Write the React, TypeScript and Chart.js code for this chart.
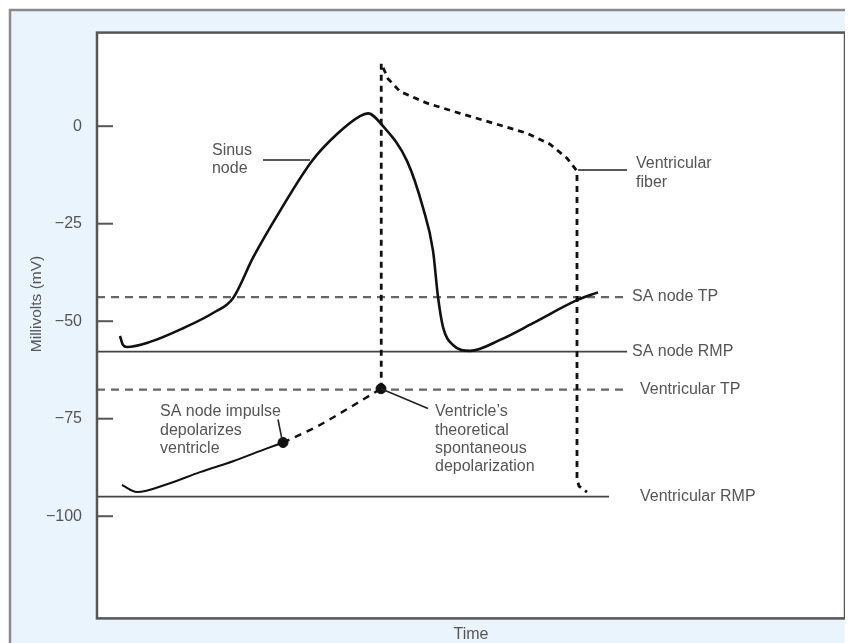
import React, { useEffect, useRef } from "react";
import { Chart, registerables } from "chart.js";

Chart.register(...registerables);

// Time axis runs 0..100 (arbitrary units), voltage in mV
const yTicks = [0, -25, -50, -75, -100];

const sinusTime = [3.07, 3.48, 4.01, 7.09, 11.5, 15.51, 18.18, 20.86, 24.47, 28.74, 32.09, 35.16, 36.23, 38.24, 41.44, 43.58, 44.92, 45.59, 46.26, 47.59, 49.87, 53.88, 58.29, 64.17, 66.98];
const sinusMv = [-53.8, -56.1, -56.6, -55.3, -51.8, -47.9, -44.1, -33.7, -21.7, -8.9, -2.0, 2.6, 3.3, 0, -8.9, -20.9, -31.9, -43.8, -51.5, -56.1, -57.6, -54.8, -50.5, -44.6, -42.6];

const fiberTime = [38.0, 38.0, 38.9, 40.51, 44.12, 48.53, 52.94, 57.49, 60.56, 62.83, 64.17, 64.17, 64.44, 65.51];
const fiberMv = [-67.3, 16.1, 12.2, 8.9, 5.9, 3.3, 0.8, -1.8, -4.6, -8.2, -11.5, -90.5, -92.3, -93.8];

const ventSolidTime = [3.34, 5.35, 9.36, 13.77, 18.18, 22.73, 24.87];
const ventSolidMv = [-92.0, -93.8, -91.8, -88.7, -85.9, -82.6, -81.1];

const ventDashTime = [24.87, 29.41, 33.82, 37.97];
const ventDashMv = [-81.1, -77.0, -72.1, -67.3];

const dotTime = [24.87, 37.97];
const dotMv = [-81.1, -67.3];

const refNames = ["SA node TP", "SA node RMP", "Ventricular TP", "Ventricular RMP"];
const refMv = [-43.8, -57.8, -67.55, -95.0];
const refEnd = [70.86, 70.86, 70.86, 68.45];
const refDashed = [true, false, true, false];
const refLabelTime = [71.52, 71.52, 72.59, 72.59];

const yTitle = "Millivolts (mV)";
const xTitle = "Time";

const zip = (xs: number[], ys: number[]) => xs.map((x, i) => ({ x, y: ys[i] }));

const FONT = '"Liberation Sans", Arial, sans-serif';
const TEXT = "#555";

type Note = { lines: string[]; x: number; y: number[]; leader: [number, number, number, number] };
const notes: Note[] = [
  { lines: ["Sinus", "node"], x: 15.37, y: [-6.37, -10.96], leader: [22.19, -8.67, 28.48, -8.67] },
  { lines: ["Ventricular", "fiber"], x: 72.06, y: [-9.69, -14.53], leader: [64.3, -11.22, 70.86, -11.22] },
  { lines: ["SA node impulse", "depolarizes", "ventricle"], x: 8.42, y: [-73.16, -78.0, -82.59], leader: [24.2, -75.2, 24.73, -80.3] },
  { lines: ["Ventricle\u2019s", "theoretical", "spontaneous", "depolarization"], x: 45.19, y: [-73.16, -78.0, -82.59, -87.18], leader: [37.97, -67.3, 44.25, -72.39] },
];

const decor = {
  id: "decor",
  beforeDraw(chart: any) {
    const { ctx, chartArea: a, width, height } = chart;
    ctx.save();
    ctx.fillStyle = "#e9f4fc";
    ctx.fillRect(2, 2, width + 10, height + 10);
    ctx.strokeStyle = "#8a8a8a";
    ctx.lineWidth = 2.5;
    ctx.strokeRect(2, 2, width + 10, height + 10);
    ctx.fillStyle = "#ffffff";
    ctx.fillRect(a.left, a.top, a.right - a.left, a.bottom - a.top);
    // y-axis title
    ctx.translate(29, 296);
    ctx.rotate(-Math.PI / 2);
    ctx.font = `15.5px ${FONT}`;
    ctx.fillStyle = TEXT;
    ctx.textAlign = "center";
    ctx.textBaseline = "middle";
    ctx.fillText(yTitle, 0, 0);
    ctx.restore();
  },
  afterDraw(chart: any) {
    const { ctx, chartArea: a, scales } = chart;
    const xs = scales.x;
    const ys = scales.y;
    ctx.save();
    ctx.strokeStyle = "#555";
    ctx.lineWidth = 2.5;
    ctx.strokeRect(a.left, a.top, a.right - a.left, a.bottom - a.top);
    ctx.lineWidth = 2;
    yTicks.forEach((v) => {
      const py = ys.getPixelForValue(v);
      ctx.beginPath();
      ctx.moveTo(a.left, py);
      ctx.lineTo(a.left + 16, py);
      ctx.stroke();
    });
    ctx.font = `16px ${FONT}`;
    ctx.fillStyle = TEXT;
    ctx.textAlign = "left";
    ctx.textBaseline = "middle";
    refNames.forEach((n, i) => {
      ctx.fillText(n, xs.getPixelForValue(refLabelTime[i]), ys.getPixelForValue(refMv[i]));
    });
    notes.forEach((n) => {
      n.lines.forEach((l, i) => ctx.fillText(l, xs.getPixelForValue(n.x), ys.getPixelForValue(n.y[i])));
      ctx.strokeStyle = "#222";
      ctx.lineWidth = 1.6;
      ctx.beginPath();
      ctx.moveTo(xs.getPixelForValue(n.leader[0]), ys.getPixelForValue(n.leader[1]));
      ctx.lineTo(xs.getPixelForValue(n.leader[2]), ys.getPixelForValue(n.leader[3]));
      ctx.stroke();
    });
    ctx.restore();
  },
};

export default function App() {
  const ref = useRef<HTMLCanvasElement>(null);
  useEffect(() => {
    if (!ref.current) return;
    const refSets = refNames.map((n, i) => ({
      label: n,
      data: [{ x: 0, y: refMv[i] }, { x: refEnd[i], y: refMv[i] }],
      showLine: true,
      borderColor: refDashed[i] ? "#666" : "#444",
      borderWidth: refDashed[i] ? 2.2 : 1.8,
      borderDash: refDashed[i] ? [8, 6] : [],
      pointRadius: 0,
    }));
    const chart = new Chart(ref.current, {
      type: "scatter",
      data: {
        datasets: [
          {
            label: "Dots",
            data: zip(dotTime, dotMv),
            showLine: false,
            pointRadius: 5,
            pointBackgroundColor: "#111",
            pointBorderColor: "#111",
          },
          {
            label: "Sinus node",
            data: zip(sinusTime, sinusMv),
            showLine: true,
            borderColor: "#111",
            borderWidth: 2.6,
            cubicInterpolationMode: "monotone",
            pointRadius: 0,
          },
          {
            label: "Ventricular fiber",
            data: zip(fiberTime, fiberMv),
            showLine: true,
            borderColor: "#111",
            borderWidth: 2.8,
            borderDash: [6, 5],
            tension: 0,
            pointRadius: 0,
          },
          {
            label: "Ventricle",
            data: zip(ventSolidTime, ventSolidMv),
            showLine: true,
            borderColor: "#111",
            borderWidth: 2,
            cubicInterpolationMode: "monotone",
            pointRadius: 0,
          },
          {
            label: "Ventricle depolarization",
            data: zip(ventDashTime, ventDashMv),
            showLine: true,
            borderColor: "#111",
            borderWidth: 2.4,
            borderDash: [7, 6],
            cubicInterpolationMode: "monotone",
            pointRadius: 0,
          },
          ...refSets,
        ] as any,
      },
      options: {
        animation: false,
        responsive: false,
        events: [],
        layout: { padding: { left: 0, top: 23, right: 8, bottom: 0 } },
        plugins: { legend: { display: false }, tooltip: { enabled: false } },
        scales: {
          x: {
            type: "linear",
            min: 0,
            max: 100,
            grid: { display: false, drawTicks: false },
            border: { display: false },
            ticks: { display: false },
            title: {
              display: true,
              text: xTitle,
              color: TEXT,
              font: { family: FONT, size: 16, lineHeight: 1 },
              padding: { top: 0, bottom: -1 },
            },
            afterFit: (s: any) => {
              s.height = 23;
            },
          },
          y: {
            type: "linear",
            min: -126.2,
            max: 24,
            grid: { display: false, drawTicks: false },
            border: { display: false },
            afterBuildTicks: (s: any) => {
              s.ticks = yTicks.map((v) => ({ value: v }));
            },
            ticks: {
              color: TEXT,
              padding: 15,
              font: { family: FONT, size: 16 },
              callback: (v: any) => (Number(v) < 0 ? "\u2212" + Math.abs(Number(v)) : String(v)),
            },
            title: { display: false },
            afterFit: (s: any) => {
              s.width = 89;
            },
          },
        },
      } as any,
      plugins: [decor],
    });
    return () => chart.destroy();
  }, []);
  return (
    <div style={{ width: 845, height: 635 }}>
      <canvas ref={ref} width={845} height={635} style={{ display: "block" }} />
    </div>
  );
}
